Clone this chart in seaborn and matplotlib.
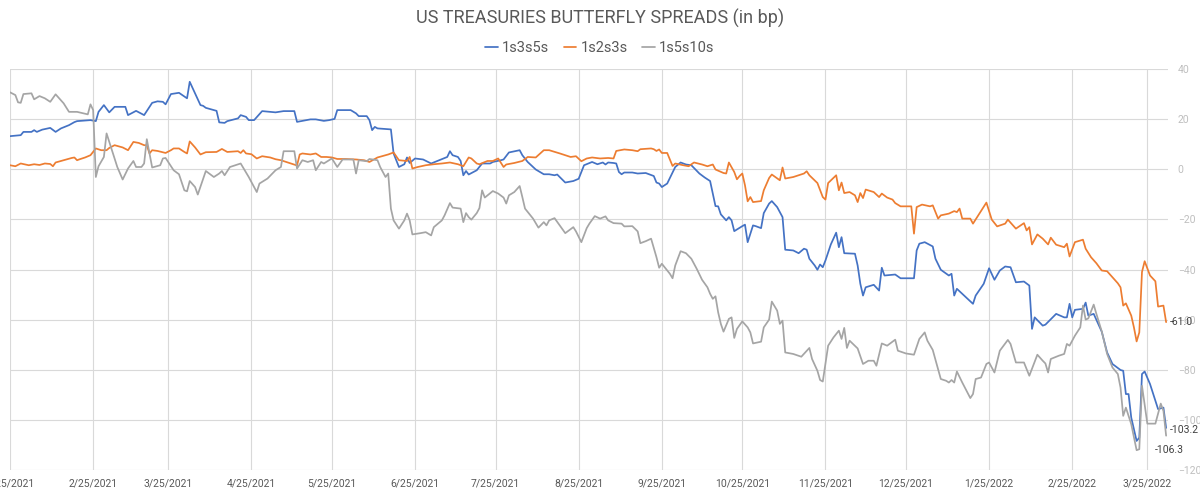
import pandas as pd
import numpy as np
import seaborn as sns
import matplotlib.pyplot as plt
import matplotlib.dates as mdates
from matplotlib.ticker import FuncFormatter

# days counted from 25 Jan 2021
START = pd.Timestamp("2021-01-25")

blue_days = [0, 4, 5, 8, 9, 10, 12, 15, 17, 19, 22, 24, 25, 30, 32, 33, 35, 37, 39, 43, 44, 47, 50, 53, 55, 57, 58, 60, 63, 65, 66, 67, 69, 71, 72, 73, 77, 78, 80, 81, 85, 86, 88, 89, 91, 94, 99, 102, 106, 107, 112, 114, 117, 119, 121, 122, 127, 129, 130, 133, 134, 135, 136, 137, 142, 143, 145, 147, 148, 149, 151, 154, 157, 160, 163, 164, 165, 167, 168, 169, 170, 171, 174, 176, 179, 180, 183, 184, 186, 190, 191, 193, 196, 199, 201, 203, 204, 207, 210, 212, 213, 214, 217, 219, 221, 222, 223, 225, 226, 227, 228, 229, 232, 234, 237, 240, 241, 242, 243, 245, 248, 250, 252, 254, 257, 259, 261, 262, 263, 264, 265, 267, 268, 269, 270, 273, 274, 275, 277, 278, 280, 281, 283, 284, 286, 288, 289, 292, 294, 296, 297, 298, 300, 301, 302, 303, 304, 306, 308, 309, 310, 311, 315, 316, 317, 318, 319, 322, 324, 325, 326, 330, 332, 337, 338, 339, 341, 344, 345, 347, 350, 351, 352, 353, 355, 359, 360, 363, 365, 367, 369, 371, 373, 375, 378, 380, 381, 382, 385, 386, 390, 393, 394, 395, 396, 397, 400, 401, 402, 404, 407, 409, 411, 414, 415, 416, 417, 418, 420, 421, 422, 423, 425, 428, 430, 431]
blue_vals = [13.2, 13.6, 14.9, 14.9, 15.6, 14.9, 15.8, 16.5, 14.9, 16.3, 17.6, 18.8, 19.2, 19.6, 19.2, 22.9, 25.6, 22.7, 24.9, 24.9, 21.6, 23.3, 21.6, 26.5, 27.1, 26.9, 25.9, 30.0, 30.5, 29.0, 28.3, 34.9, 30.3, 25.6, 25.3, 24.5, 23.3, 18.7, 18.5, 19.2, 20.3, 21.6, 20.9, 19.6, 19.6, 23.2, 22.7, 23.2, 23.2, 18.9, 19.9, 19.9, 19.3, 19.6, 20.1, 23.6, 23.6, 22.3, 21.2, 21.2, 19.6, 15.6, 16.9, 16.3, 15.9, 6.3, 0.9, 2.0, 4.7, 2.5, 4.3, 3.9, 2.3, 3.6, 4.9, 7.2, 5.6, 4.9, 3.3, -2.4, -0.7, -2.1, -0.4, 2.3, 2.3, 2.9, 3.6, 3.9, 6.7, 7.6, 5.6, 2.9, -0.1, -2.0, -2.0, -2.4, -2.1, -5.3, -4.7, -3.8, -1.1, 1.6, 2.9, 2.0, 2.7, 1.9, 2.7, 2.5, 2.3, -1.1, -2.0, -1.3, -1.3, -1.7, -1.5, -2.7, -5.3, -5.7, -7.1, -5.7, 0.9, 2.7, 1.9, 1.6, -1.7, -3.3, -4.7, -9.7, -14.7, -14.8, -18.0, -20.4, -19.1, -20.4, -24.7, -22.7, -22.1, -29.1, -22.4, -22.7, -23.5, -17.5, -13.7, -12.7, -15.1, -19.1, -32.1, -32.4, -33.5, -31.7, -32.1, -35.7, -38.4, -40.1, -38.0, -39.1, -36.4, -30.0, -25.3, -31.1, -27.1, -33.5, -33.7, -38.4, -45.7, -50.4, -47.1, -46.1, -48.4, -39.3, -42.4, -42.0, -43.5, -43.5, -32.4, -29.7, -29.1, -30.8, -35.7, -40.1, -42.4, -41.7, -50.4, -47.7, -49.7, -53.7, -50.4, -45.7, -39.5, -44.1, -40.4, -38.8, -39.1, -45.1, -44.8, -46.4, -63.7, -59.1, -62.4, -62.0, -57.7, -59.1, -59.1, -53.7, -59.1, -56.1, -55.7, -53.2, -58.4, -57.7, -64.8, -73.1, -77.7, -80.1, -80.4, -89.7, -89.7, -99.1, -108.4, -107.1, -81.7, -80.7, -85.7, -95.7, -95.1, -103.2]

orange_days = [0, 2, 4, 7, 9, 11, 13, 15, 16, 17, 20, 23, 24, 25, 26, 28, 30, 32, 34, 36, 37, 39, 42, 44, 46, 48, 50, 51, 52, 53, 55, 58, 60, 61, 63, 65, 66, 67, 69, 71, 73, 77, 79, 81, 85, 86, 87, 88, 90, 92, 94, 97, 99, 101, 103, 107, 108, 109, 112, 114, 116, 118, 120, 122, 125, 129, 132, 134, 137, 141, 143, 145, 148, 149, 150, 152, 155, 158, 161, 164, 167, 169, 171, 172, 174, 175, 178, 180, 182, 184, 185, 188, 191, 193, 196, 199, 201, 205, 209, 211, 213, 215, 217, 220, 223, 225, 226, 229, 232, 234, 235, 239, 240, 241, 242, 243, 245, 247, 248, 251, 253, 255, 258, 260, 262, 263, 266, 267, 268, 270, 271, 272, 273, 274, 275, 276, 277, 280, 281, 283, 284, 287, 288, 289, 292, 296, 297, 298, 301, 303, 304, 305, 308, 309, 310, 311, 313, 315, 316, 317, 318, 319, 322, 324, 325, 327, 329, 330, 332, 336, 337, 338, 340, 343, 344, 346, 347, 350, 352, 353, 354, 355, 358, 359, 364, 366, 368, 371, 372, 375, 378, 379, 380, 381, 383, 385, 387, 388, 390, 393, 394, 395, 397, 400, 401, 403, 405, 407, 409, 413, 414, 415, 416, 418, 419, 420, 421, 422, 423, 425, 427, 428, 430, 431]
orange_vals = [1.6, 1.2, 2.3, 1.6, 2.0, 1.7, 2.3, 2.1, 1.2, 2.7, 3.6, 4.5, 4.7, 3.6, 4.0, 4.7, 5.6, 8.3, 7.6, 7.6, 8.5, 9.6, 8.7, 7.6, 10.9, 10.5, 9.6, 9.6, 6.3, 7.6, 7.3, 6.5, 7.6, 8.3, 8.3, 6.9, 6.3, 11.1, 8.7, 5.9, 6.8, 6.9, 8.1, 6.9, 7.2, 6.5, 7.6, 6.3, 6.0, 4.3, 5.2, 4.7, 4.0, 3.6, 2.9, 1.5, 5.9, 6.3, 5.9, 6.3, 4.9, 4.9, 4.7, 4.1, 4.1, 3.9, 3.6, 2.9, 4.7, 5.9, 6.7, 3.6, 3.3, 4.9, 0.3, 0.9, 1.6, 2.0, 2.3, 2.7, 2.0, 1.2, 4.7, 4.3, 2.3, 2.0, 3.3, 3.3, 4.3, 0.9, 1.9, 2.5, 3.3, 4.9, 4.7, 7.6, 7.6, 6.3, 4.9, 5.2, 3.2, 4.3, 4.7, 4.3, 4.5, 4.3, 7.3, 7.9, 7.6, 7.2, 8.0, 8.3, 8.0, 7.3, 7.9, 6.5, 6.5, 1.3, 2.3, 1.6, 1.2, 2.7, 1.9, 1.2, 1.9, -0.1, -1.5, -1.7, 2.7, -1.1, -4.0, -2.7, -1.7, -6.4, -12.8, -11.1, -13.1, -12.7, -8.4, -3.5, -2.1, -4.4, 0.7, -3.7, -3.1, -1.7, -0.8, -2.4, -5.5, -11.1, -12.1, -5.5, -2.4, -8.4, -5.3, -9.5, -9.1, -10.4, -13.1, -9.5, -11.5, -8.1, -9.1, -11.1, -9.7, -11.3, -12.1, -13.5, -14.8, -14.8, -25.7, -15.1, -14.1, -14.8, -14.4, -19.7, -18.4, -17.7, -16.7, -17.1, -15.7, -19.7, -19.7, -21.7, -13.3, -20.1, -22.8, -21.7, -20.1, -23.7, -21.5, -24.4, -23.1, -30.0, -26.0, -27.7, -30.0, -27.3, -30.1, -31.1, -29.7, -34.8, -29.1, -28.1, -31.7, -35.1, -37.5, -40.4, -40.7, -45.5, -47.1, -54.4, -53.5, -58.4, -63.1, -68.7, -65.1, -41.0, -36.7, -42.4, -44.7, -54.8, -54.4, -61.0]

gray_days = [0, 2, 3, 4, 5, 8, 9, 11, 13, 15, 17, 20, 22, 25, 29, 30, 31, 32, 33, 35, 36, 38, 40, 42, 44, 46, 47, 49, 50, 51, 52, 53, 56, 57, 58, 60, 61, 63, 65, 66, 67, 69, 70, 73, 76, 78, 79, 80, 82, 86, 89, 92, 93, 96, 99, 101, 102, 106, 107, 109, 111, 113, 114, 116, 117, 120, 122, 124, 128, 129, 130, 133, 134, 137, 138, 140, 141, 142, 143, 145, 147, 148, 149, 150, 153, 155, 157, 158, 161, 162, 164, 165, 168, 169, 170, 171, 172, 174, 175, 176, 177, 180, 182, 184, 185, 186, 188, 190, 191, 192, 195, 197, 199, 200, 201, 203, 207, 210, 211, 213, 215, 216, 218, 220, 222, 223, 225, 228, 229, 232, 234, 235, 237, 239, 241, 242, 243, 246, 247, 248, 250, 252, 254, 256, 258, 260, 261, 262, 263, 264, 265, 266, 268, 269, 270, 271, 273, 275, 276, 277, 280, 281, 283, 284, 286, 287, 288, 289, 292, 295, 298, 299, 301, 302, 303, 305, 307, 309, 310, 311, 312, 313, 316, 318, 320, 322, 323, 325, 327, 330, 331, 334, 337, 339, 341, 342, 344, 347, 349, 350, 351, 352, 353, 355, 358, 359, 360, 362, 364, 365, 367, 369, 372, 373, 375, 378, 380, 383, 385, 386, 387, 388, 391, 393, 394, 395, 397, 399, 400, 401, 402, 404, 405, 407, 409, 411, 413, 414, 415, 416, 418, 420, 421, 422, 424, 427, 429, 430, 431]
gray_vals = [30.7, 29.6, 26.7, 26.5, 30.0, 30.3, 27.9, 29.2, 28.3, 26.9, 29.9, 26.3, 22.9, 22.9, 21.9, 25.9, 23.6, -3.1, 1.2, 4.9, 14.3, 7.6, 0.9, -4.1, 0.3, 3.3, 0.9, 0.9, 2.3, 12.0, 6.3, 0.7, 1.6, 4.3, 4.5, 1.2, -0.4, -2.0, -8.4, -8.8, -4.7, -7.1, -10.1, -0.7, -3.1, -1.7, -0.7, -2.4, 0.9, 2.3, -3.1, -9.1, -5.7, -3.7, -0.4, 0.9, 7.2, 7.2, 0.3, 3.6, 2.9, 3.6, -0.4, 2.9, 2.3, 4.3, 0.9, 3.9, 3.9, -1.7, 3.6, 3.2, 4.1, 3.6, 0.9, -3.1, -1.7, -15.7, -20.4, -23.7, -20.4, -17.7, -20.4, -26.0, -25.5, -25.1, -26.4, -23.1, -20.4, -18.4, -13.5, -15.3, -15.7, -21.1, -17.5, -19.1, -20.1, -17.5, -15.5, -8.4, -11.3, -8.7, -9.7, -11.3, -13.7, -10.4, -9.1, -6.7, -11.1, -15.7, -19.7, -23.3, -21.1, -22.4, -20.4, -19.5, -25.5, -23.1, -24.8, -29.1, -23.5, -21.7, -18.7, -19.7, -18.8, -20.4, -21.5, -21.7, -22.8, -22.7, -24.8, -29.5, -28.7, -27.7, -35.1, -39.3, -37.7, -41.7, -43.5, -38.4, -32.7, -33.5, -35.7, -39.7, -44.1, -47.1, -49.7, -51.7, -50.7, -57.1, -61.7, -64.8, -59.7, -59.1, -67.3, -63.7, -60.7, -63.1, -65.1, -69.5, -68.8, -63.1, -60.0, -52.8, -56.4, -61.7, -60.4, -73.1, -73.7, -74.8, -71.3, -75.7, -80.4, -84.1, -84.7, -70.4, -67.1, -64.4, -67.7, -63.3, -71.3, -68.4, -71.5, -77.7, -76.4, -76.4, -78.4, -69.5, -70.4, -68.0, -72.4, -73.5, -74.0, -67.7, -65.1, -68.4, -72.1, -83.7, -84.4, -85.1, -84.1, -85.1, -80.7, -85.1, -91.3, -89.7, -83.7, -83.1, -77.7, -77.1, -81.1, -72.4, -68.1, -69.7, -77.1, -77.1, -82.4, -74.0, -76.4, -77.5, -81.1, -75.7, -74.4, -73.7, -69.7, -70.4, -66.4, -63.1, -54.4, -60.0, -59.5, -54.0, -57.7, -64.7, -73.7, -79.1, -81.7, -87.1, -98.4, -95.1, -101.7, -112.1, -111.7, -86.4, -101.5, -101.5, -93.5, -96.4, -106.3]

series_names = ["1s3s5s", "1s2s3s", "1s5s10s"]
colors = ["#4472C4", "#ED7D31", "#A5A5A5"]

frames = []
for name, days, vals in zip(series_names,
                            [blue_days, orange_days, gray_days],
                            [blue_vals, orange_vals, gray_vals]):
    frames.append(pd.DataFrame({"date": START + pd.to_timedelta(days, unit="D"),
                                "value": vals, "series": name}))
df = pd.concat(frames, ignore_index=True)

sns.set_style("white")
plt.rcParams["font.family"] = ["Roboto", "DejaVu Sans"]

fig = plt.figure(figsize=(12, 4.93), dpi=100)
ax = fig.add_axes([10/1200, 1 - 470/493, 1158/1200, 401/493])

sns.lineplot(data=df, x="date", y="value", hue="series", hue_order=series_names,
             palette=colors, estimator=None, linewidth=1.25, ax=ax)

ax.set_ylim(-120, 40)
ax.set_yticks(np.arange(-120, 41, 20))
ax.set_xlim(START, START + pd.Timedelta(days=431.7))
ax.xaxis.set_major_locator(mdates.MonthLocator(bymonthday=25))
ax.xaxis.set_major_formatter(FuncFormatter(
    lambda v, p: "{d.month}/{d.day}/{d.year}".format(d=mdates.num2date(v))))
ax.yaxis.tick_right()
ax.tick_params(axis="y", length=0, pad=7, labelsize=7.5, labelcolor="#BFBFBF")
ax.tick_params(axis="x", length=0, pad=6, labelsize=7.5, labelcolor="#595959")
ax.grid(True, color="#D9D9D9", linewidth=0.8)
ax.set_axisbelow(True)
for s in ax.spines.values():
    s.set_visible(False)
ax.set_xlabel("")
ax.set_ylabel("")

# end-of-series labels
last = df.groupby("series").tail(1).set_index("series")
offsets = {"1s2s3s": (4, 0), "1s3s5s": (4, -2), "1s5s10s": (-11, -14)}
for name in series_names:
    dx, dy = offsets[name]
    ax.annotate(f"{last.loc[name, 'value']:.1f}",
                xy=(last.loc[name, "date"], last.loc[name, "value"]),
                xytext=(dx * 0.72, dy * 0.72), textcoords="offset points",
                ha="left", va="center", fontsize=7.5, color="#404040",
                annotation_clip=False)

handles, labels = ax.get_legend_handles_labels()
ax.legend(handles, labels, loc="center", bbox_to_anchor=(0.5, 1 - 48/493),
          bbox_transform=fig.transFigure, ncol=3, frameon=False, fontsize=10.5,
          handlelength=0.85, handletextpad=0.3, columnspacing=1.0,
          labelcolor="#595959")

fig.text(0.5, 1 - 18/493, "US TREASURIES BUTTERFLY SPREADS (in bp)",
         ha="center", va="center", fontsize=13, color="#595959")

fig.savefig("out.png", dpi=100)
